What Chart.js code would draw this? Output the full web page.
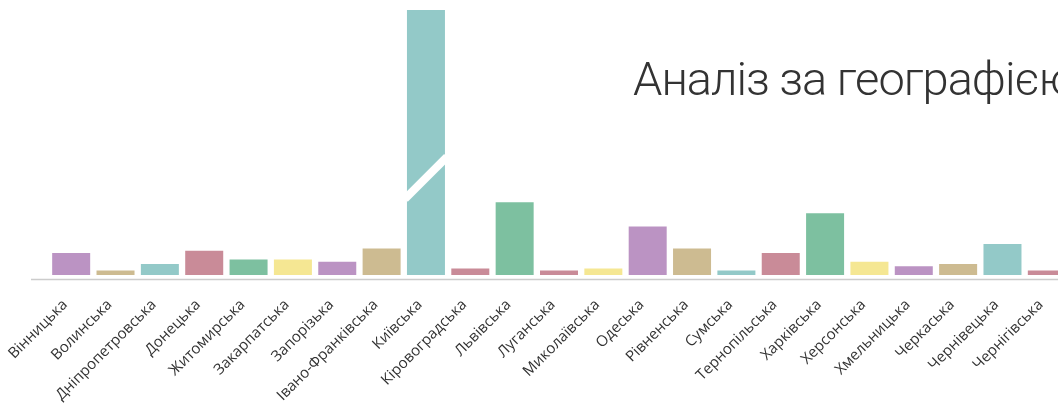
<!DOCTYPE html>
<html>
<head>
<meta charset="utf-8">
<script src="https://cdn.jsdelivr.net/npm/chart.js@4/dist/chart.umd.min.js"></script>
<style>
  html, body { margin: 0; padding: 0; background: #fff; overflow: hidden; }
  #wrap { position: relative; width: 1080px; height: 407px; }
  #geoChart { display: block; }
  #title {
    position: absolute; left: 633px; top: 51px; white-space: nowrap;
    font-family: "Roboto", "Open Sans", sans-serif; font-weight: 300;
    font-size: 47px; letter-spacing: -1px; color: #333;
  }
</style>
</head>
<body>
<div id="wrap">
  <canvas id="geoChart" width="1080" height="407"></canvas>
  <div id="title">Аналіз за географією</div>
</div>
<script>
  const regions = [
    "Вінницька", "Волинська", "Дніпропетровська", "Донецька", "Житомирська",
    "Закарпатська", "Запорізька", "Івано-Франківська", "Київська", "Кіровоградська",
    "Львівська", "Луганська", "Миколаївська", "Одеська", "Рівненська", "Сумська",
    "Тернопільська", "Харківська", "Херсонська", "Хмельницька", "Черкаська",
    "Чернівецька", "Чернігівська",
  ];

  const counts = [10, 2, 5, 11, 7, 7, 6, 12, 250, 3, 33, 2, 3, 22, 12, 2, 10, 28, 6, 4, 5, 14, 2];

  const barColors = [
    "#bb93c3", "#cdbb91", "#93c9c8", "#c98b98", "#7dc0a0", "#f5e793",
    "#bb93c3", "#cdbb91", "#93c9c8", "#c98b98", "#7dc0a0", "#c98b98",
    "#f5e793", "#bb93c3", "#cdbb91", "#93c9c8", "#c98b98", "#7dc0a0",
    "#f5e793", "#bb93c3", "#cdbb91", "#93c9c8", "#c98b98",
  ];

  // bar that gets the axis break, and the value where the break sits
  const brokenIndex = 8;
  const breakValue = 44;

  const extras = {
    id: "extras",
    afterDatasetsDraw(chart) {
      const c = chart.ctx;
      const bar = chart.getDatasetMeta(0).data[brokenIndex];
      const y = chart.scales.y.getPixelForValue(breakValue);
      const half = bar.width / 2;
      c.save();
      c.strokeStyle = "#fff";
      c.lineWidth = 8;
      c.beginPath();
      c.moveTo(bar.x - half - 2, y + half + 2);
      c.lineTo(bar.x + half + 2, y - half - 2);
      c.stroke();
      c.restore();
    },
    afterDraw(chart) {
      const c = chart.ctx;
      const y = chart.chartArea.bottom + 4.5;
      c.save();
      c.strokeStyle = "#cccccc";
      c.lineWidth = 1.5;
      c.beginPath();
      c.moveTo(chart.chartArea.left - 18, y);
      c.lineTo(chart.width, y);
      c.stroke();
      c.restore();
    },
  };

  const ctx = document.getElementById("geoChart");

  new Chart(ctx, {
    type: "bar",
    data: {
      labels: regions,
      datasets: [
        {
          data: counts,
          backgroundColor: barColors,
          barPercentage: 0.857,
          categoryPercentage: 1.0,
        },
      ],
    },
    options: {
      responsive: false,
      animation: false,
      devicePixelRatio: 1,
      layout: {
        padding: { left: 49, right: 11, top: 10, bottom: 0 },
      },
      plugins: {
        legend: { display: false },
        tooltip: { enabled: false },
      },
      scales: {
        y: {
          display: false,
          min: 0,
          max: 120,
        },
        x: {
          border: { display: false },
          grid: { display: false, drawTicks: false },
          afterFit: function (scale) {
            scale.height = 132;
            scale.paddingLeft = 0;
            scale.paddingRight = 0;
          },
          ticks: {
            autoSkip: false,
            minRotation: 45,
            maxRotation: 45,
            padding: 21,
            labelOffset: -6,
            color: "#333",
            font: { family: "'Open Sans', sans-serif", size: 15 },
          },
        },
      },
    },
    plugins: [extras],
  });
</script>
</body>
</html>
